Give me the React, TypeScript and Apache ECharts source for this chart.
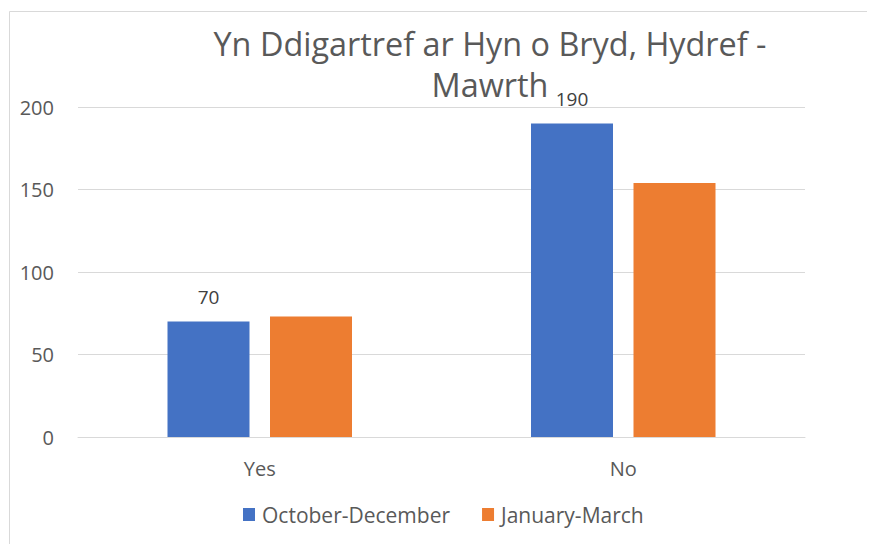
import React, { useEffect, useRef } from "react";
import * as echarts from "echarts";

const titleText = "Yn Ddigartref ar Hyn o Bryd, Hydref -\nMawrth";
const categories = ["Yes", "No"];
const seriesNames = ["October-December", "January-March"];
const octDec = [70, 190];
const janMar = [73, 154];
const yTicks = { min: 0, max: 200, interval: 50 };

const FONT = "'Open Sans', 'Noto Sans', sans-serif";

export default function App() {
  const ref = useRef<HTMLDivElement>(null);
  useEffect(() => {
    if (!ref.current) return;
    const chart = echarts.init(ref.current, undefined, { renderer: "svg" });
    chart.setOption({
      animation: false,
      backgroundColor: "#ffffff",
      textStyle: { fontFamily: FONT },
      graphic: [
        {
          type: "rect",
          shape: { x: 9.5, y: 11.5, width: 862, height: 560 },
          style: { fill: "none", stroke: "#d9d9d9", lineWidth: 1 },
          silent: true,
        },
      ],
      title: {
        text: titleText,
        left: 485,
        top: 17,
        textAlign: "center",
        textStyle: {
          fontFamily: FONT,
          fontSize: 32.4,
          fontWeight: "normal",
          color: "#595959",
          lineHeight: 41,
        },
      },
      legend: {
        left: 238,
        top: 499,
        itemWidth: 12,
        itemHeight: 13,
        itemGap: 32,
        icon: "rect",
        textStyle: { fontFamily: FONT, fontSize: 21, color: "#595959", padding: [0, 0, 0, 2] },
        data: seriesNames,
      },
      grid: { left: 78, right: 70, top: 107, bottom: 115, containLabel: false },
      xAxis: {
        type: "category",
        data: categories,
        axisLine: { lineStyle: { color: "#d9d9d9" } },
        axisTick: { show: false },
        axisLabel: { fontFamily: FONT, fontSize: 20, color: "#595959", margin: 21 },
      },
      yAxis: {
        type: "value",
        min: yTicks.min,
        max: yTicks.max,
        interval: yTicks.interval,
        axisLine: { show: false },
        axisTick: { show: false },
        splitLine: { lineStyle: { color: "#d9d9d9" } },
        axisLabel: { fontFamily: FONT, fontSize: 20, color: "#595959", margin: 24 },
      },
      series: [
        {
          name: seriesNames[0],
          type: "bar",
          data: octDec,
          itemStyle: { color: "#4472c4" },
          barWidth: 82,
          barGap: "25%",
          label: {
            show: true,
            position: "top",
            distance: 15,
            fontFamily: FONT,
            fontSize: 19,
            color: "#404040",
          },
        },
        {
          name: seriesNames[1],
          type: "bar",
          data: janMar,
          itemStyle: { color: "#ed7d31" },
          barWidth: 82,
          barGap: "25%",
        },
      ],
    });
    return () => chart.dispose();
  }, []);
  return (
    <div
      ref={ref}
      style={{ width: 875, height: 552, margin: -8, position: "relative" }}
    />
  );
}
